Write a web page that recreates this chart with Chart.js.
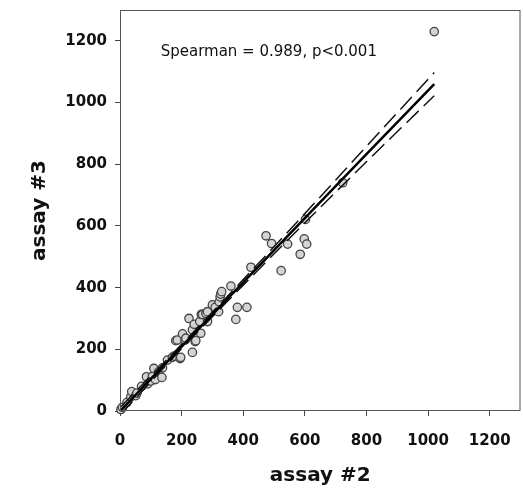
<!DOCTYPE html>
<html>
<head>
<meta charset="utf-8">
<script src="https://cdn.jsdelivr.net/npm/chart.js@4/dist/chart.umd.min.js"></script>
<style>
  body { margin: 0; background: #fff; overflow: hidden; }
  #wrap { width: 526px; height: 492px; }
</style>
</head>
<body>
<div id="wrap"><canvas id="scatterChart"></canvas></div>
<script>
// assay #2 vs assay #3
var assay2 = [3, 8, 23, 35, 38, 51, 55, 70, 86, 90, 100, 105, 110, 115, 125, 136, 138, 154, 170, 176,
  181, 186, 195, 197, 203, 211, 214, 224, 235, 235, 241, 244, 246, 259, 262, 264, 268, 279, 284, 284,
  300, 309, 320, 322, 325, 327, 330, 360, 376, 381, 412, 425, 474, 492, 523, 544, 585, 598, 602, 606,
  723, 1020];
var assay3 = [5, 12, 28, 46, 63, 50, 58, 80, 111, 88, 97, 112, 138, 102, 127, 109, 140, 165, 174, 178,
  228, 230, 170, 174, 250, 230, 236, 300, 190, 263, 281, 225, 228, 290, 252, 313, 313, 317, 290, 322,
  344, 336, 322, 354, 370, 379, 387, 405, 297, 336, 336, 466, 568, 543, 455, 541, 508, 558, 621, 541,
  740, 1230];

// regression line and 95% band
var fitX = [3, 200, 400, 600, 800, 1020];
var fitY = [2, 209, 417, 625, 833, 1060];
var upperY = [14, 216, 426, 640, 858, 1097];
var lowerY = [-10, 202, 408, 610, 808, 1022];

var axisMin = 0, axisMax = 1300, tickStep = 200;
var noteText = 'Spearman = 0.989, p<0.001';
var notePos = [132, 1164];

function pts(xs, ys) {
  return xs.map(function (x, i) { return { x: x, y: ys[i] }; });
}

var framePlugin = {
  id: 'frame',
  afterDatasetsDraw: function (chart) {
    var a = chart.chartArea, ctx = chart.ctx;
    ctx.save();
    ctx.strokeStyle = '#555';
    ctx.lineWidth = 1;
    ctx.strokeRect(a.left + 0.5, a.top + 0.5, a.right - a.left - 1, a.bottom - a.top - 1);
    ctx.fillStyle = '#111';
    ctx.font = '15px "DejaVu Sans"';
    ctx.textBaseline = 'middle';
    ctx.fillText(noteText, chart.scales.x.getPixelForValue(notePos[0]), chart.scales.y.getPixelForValue(notePos[1]));
    ctx.restore();
  }
};

var tickFont = { family: 'DejaVu Sans', size: 15, weight: 'bold' };
var titleFont = { family: 'DejaVu Sans', size: 20, weight: 'bold' };

function noPad(s) {
  s.paddingTop = 0; s.paddingBottom = 0; s.paddingLeft = 0; s.paddingRight = 0;
}

new Chart(document.getElementById('scatterChart'), {
  type: 'scatter',
  data: {
    datasets: [{
        type: 'line',
        data: pts(fitX, fitY),
        borderColor: '#000',
        borderWidth: 2.5,
        pointRadius: 0,
        fill: false,
        order: 1
      }, {
        type: 'line',
        data: pts(fitX, upperY),
        borderColor: '#111',
        borderWidth: 1.5,
        borderDash: [17, 7],
        cubicInterpolationMode: 'monotone',
        pointRadius: 0,
        fill: false,
        order: 2
      }, {
        type: 'line',
        data: pts(fitX, lowerY),
        borderColor: '#111',
        borderWidth: 1.5,
        borderDash: [17, 7],
        cubicInterpolationMode: 'monotone',
        pointRadius: 0,
        fill: false,
        order: 3
      }, {
        data: pts(assay2, assay3),
        backgroundColor: '#d4d4d4',
        borderColor: '#444',
        borderWidth: 1.3,
        pointRadius: 4.2,
        clip: false,
        order: 4
      }
    ]
  },
  options: {
    responsive: true,
    maintainAspectRatio: false,
    animation: false,
    layout: { padding: { left: 0, top: 10, right: 0, bottom: 0 } },
    plugins: {
      legend: { display: false },
      tooltip: { enabled: false }
    },
    scales: {
      x: {
        type: 'linear',
        min: axisMin,
        max: axisMax,
        afterFit: function (s) { s.height = 81; noPad(s); },
        grid: { drawOnChartArea: false, drawTicks: true, tickLength: 5, color: '#444' },
        border: { display: false },
        ticks: { stepSize: tickStep, includeBounds: false, padding: 16, color: '#111', font: tickFont, maxRotation: 0,
          callback: function (v) { return String(v); } },
        title: { display: true, text: 'assay #2', color: '#111', font: titleFont, padding: { top: 0, bottom: 4 } }
      },
      y: {
        type: 'linear',
        min: axisMin,
        max: axisMax,
        afterFit: function (s) { s.width = 120; noPad(s); },
        grid: { drawOnChartArea: false, drawTicks: true, tickLength: 5, color: '#444' },
        border: { display: false },
        ticks: { stepSize: tickStep, includeBounds: false, padding: 8, color: '#111', font: tickFont,
          callback: function (v) { return String(v); } },
        title: { display: true, text: 'assay #3', color: '#111', font: titleFont, padding: { top: 28, bottom: 0 } }
      }
    }
  },
  plugins: [framePlugin]
});
</script>
</body>
</html>
